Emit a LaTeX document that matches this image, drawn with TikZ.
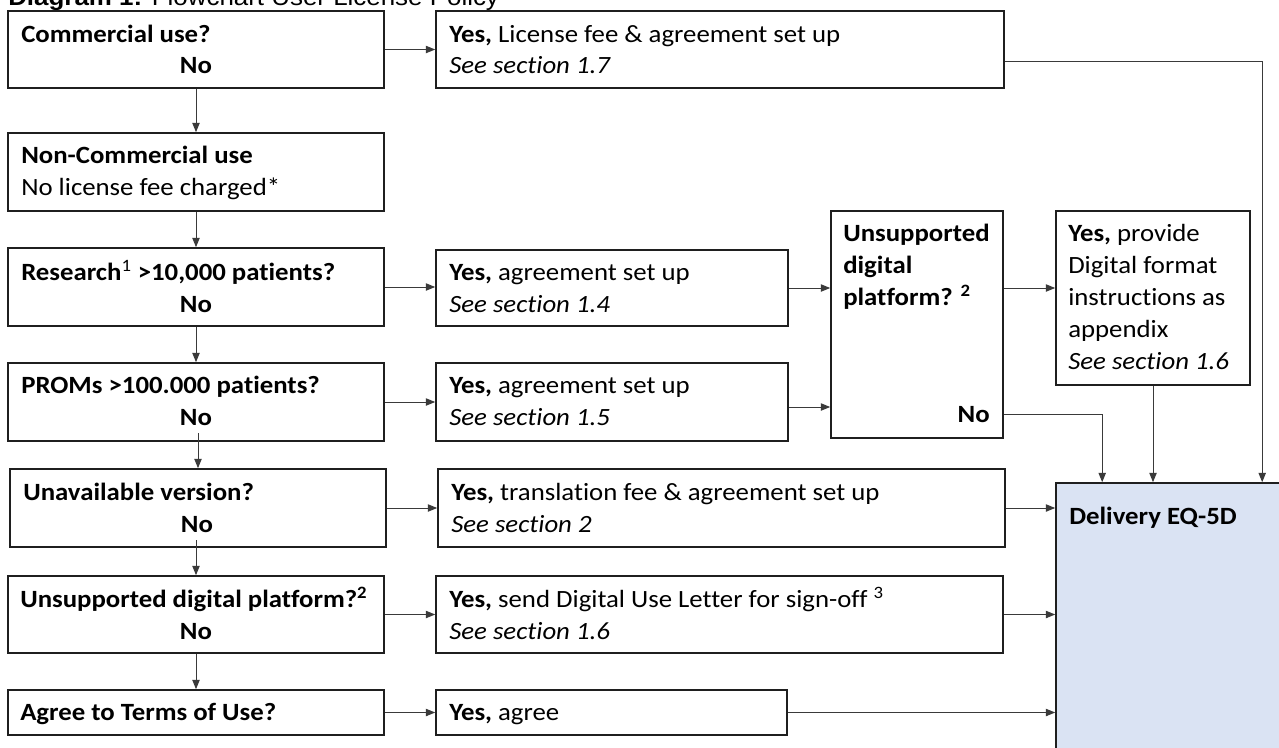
\documentclass[tikz,border=0pt]{standalone}
\usepackage{fontspec}
\setmainfont{Carlito}[FakeStretch=1.08,Ligatures=NoCommon]
\newfontfamily\titlefont{Liberation Sans}[FakeStretch=1.08]
\usetikzlibrary{arrows.meta,fit,calc}
\definecolor{boxc}{HTML}{1F1F1F}
\definecolor{connc}{HTML}{3A3A3A}
\definecolor{dfill}{HTML}{DAE3F3}
\tikzset{
 lbl/.style={anchor=base west, inner sep=0, font=\fontsize{18.6}{23.25}\selectfont},
 lblc/.style={anchor=base, inner sep=0, font=\fontsize{18.6}{23.25}\selectfont\bfseries},
 lblr/.style={anchor=base east, inner sep=0, font=\fontsize{18.6}{23.25}\selectfont\bfseries},
 multi/.style={anchor=base west, inner sep=0, font=\fontsize{18.6}{24}\selectfont},
 box/.style={draw=boxc, line width=1.2pt, inner sep=0},
 conn/.style={draw=connc, line width=0.75pt, -{Triangle[length=7pt,width=5.5pt]}},
}
\begin{document}
\begin{tikzpicture}[x=0.75pt,y=-0.75pt]
\useasboundingbox (0,0) rectangle (1279,747);
% title
\node[anchor=base west, inner sep=0, font=\titlefont\fontsize{18}{20}\selectfont] (title) at (8,5) {\textbf{Diagram 1:} Flowchart User License Policy};
% boxes
\node[box, fit={(8,11)(384,88)}] (c1) {};
\node[box, fit={(8,133)(384,211)}] (c2) {};
\node[box, fit={(8,248)(384,326)}] (c3) {};
\node[box, fit={(8,363)(384,441)}] (c4) {};
\node[box, fit={(10,469)(386,547)}] (c5) {};
\node[box, fit={(8,576)(384,653)}] (c6) {};
\node[box, fit={(8,690)(384,735)}] (c7) {};
\node[box, fit={(436,11)(1004,88)}] (y1) {};
\node[box, fit={(436,250)(788,326)}] (y2) {};
\node[box, fit={(436,363)(788,441)}] (y3) {};
\node[box, fit={(438,469)(1005,547)}] (y4) {};
\node[box, fit={(436,576)(1003,653)}] (y5) {};
\node[box, fit={(436,690)(787,735)}] (y6) {};
\node[box, fit={(831,211)(1003,438)}] (u) {};
\node[box, fit={(1056,211)(1250,385)}] (p) {};
\node[box, fill=dfill, fit={(1056,483)(1300,770)}] (d) {};
% left texts
\node[lbl] (c1a) at (21,42) {\textbf{Commercial use?}};
\node[lblc] (c1b) at (196,73) {No};
\node[lbl] (c2a) at (21,163) {\textbf{Non-Commercial use}};
\node[lbl] (c2b) at (21,195) {No license fee charged*};
\node[lbl] (c3a) at (21,280) {\textbf{Research\textsuperscript{\mdseries 1} >10,000 patients?}};
\node[lblc] (c3b) at (196,312) {No};
\node[lbl] (c4a) at (21,393) {\textbf{PROMs >100.000 patients?}};
\node[lblc] (c4b) at (196,425) {No};
\node[lbl] (c5a) at (23,500) {\textbf{Unavailable version?}};
\node[lblc] (c5b) at (197,532) {No};
\node[lbl] (c6a) at (20,607) {\textbf{Unsupported digital platform?\textsuperscript{2}}};
\node[lblc] (c6b) at (196,639) {No};
\node[lbl] (c7a) at (20,720) {\textbf{Agree to Terms of Use?}};
% middle texts
\node[lbl] (y1a) at (449,42) {\textbf{Yes,} License fee \& agreement set up};
\node[lbl] (y1b) at (449,73) {\textit{See section 1.7}};
\node[lbl] (y2a) at (449,280) {\textbf{Yes,} agreement set up};
\node[lbl] (y2b) at (449,312) {\textit{See section 1.4}};
\node[lbl] (y3a) at (449,393) {\textbf{Yes,} agreement set up};
\node[lbl] (y3b) at (449,425) {\textit{See section 1.5}};
\node[lbl] (y4a) at (451,500) {\textbf{Yes,} translation fee \& agreement set up};
\node[lbl] (y4b) at (451,532) {\textit{See section 2}};
\node[lbl] (y5a) at (449,607) {\textbf{Yes,} send Digital Use Letter for sign-off \textsuperscript{3}};
\node[lbl] (y5b) at (449,639) {\textit{See section 1.6}};
\node[lbl] (y6a) at (449,720) {\textbf{Yes,} agree};
% right texts
\node[multi] (ua) at (843,241) {\begin{tabular}[t]{@{}l@{}}\textbf{Unsupported}\\\textbf{digital}\\\textbf{platform? \textsuperscript{2}}\end{tabular}};
\node[lblr] (un) at (990,422) {No};
\node[multi] (pa) at (1068,241) {\begin{tabular}[t]{@{}l@{}}\textbf{Yes,} provide\\Digital format\\instructions as\\appendix\\\textit{See section 1.6}\end{tabular}};
\node[lbl] (da) at (1069,524) {\textbf{Delivery EQ-5D}};
% connectors
\draw[conn] (c1.south) -- (c2.north);
\draw[conn] (c2.south) -- (c3.north);
\draw[conn] (c3.south) -- (c4.north);
\draw[conn] ($(c4b.south -| c5.north)+(0,8)$) -- (c5.north);
\draw[conn] ($(c5b.south -| c6.north)+(0,8)$) -- (c6.north);
\draw[conn] (c6.south) -- (c7.north);
\draw[conn] (c1.east) -- (y1.west);
\draw[conn] (c3.east) -- (c3.east -| y2.west);
\draw[conn] (c4.east) -- (y3.west);
\draw[conn] (c5.east) -- (c5.east -| y4.west);
\draw[conn] (c6.east) -- (y5.west);
\draw[conn] (c7.east) -- (y6.west);
\draw[conn] (y2.east) -- (y2.east -| u.west);
\draw[conn] ($(y3.east)+(0,5)$) -- ($(y3.east -| u.west)+(0,5)$);
\draw[conn] (u.east |- y2.east) -- (p.west |- y2.east);
\draw[conn] (u.east |- un) -| ($(d.north west)+(47,0)$);
\draw[conn] (p.south) -- (p.south |- d.north);
\draw[conn] ($(y1.east)+(0,11.5)$) -| ($(d.north west)+(207,0)$);
\draw[conn] (y4.east) -- (y4.east -| d.west);
\draw[conn] (y5.east) -- (y5.east -| d.west);
\draw[conn] (y6.east) -- (y6.east -| d.west);
\end{tikzpicture}
\end{document}
